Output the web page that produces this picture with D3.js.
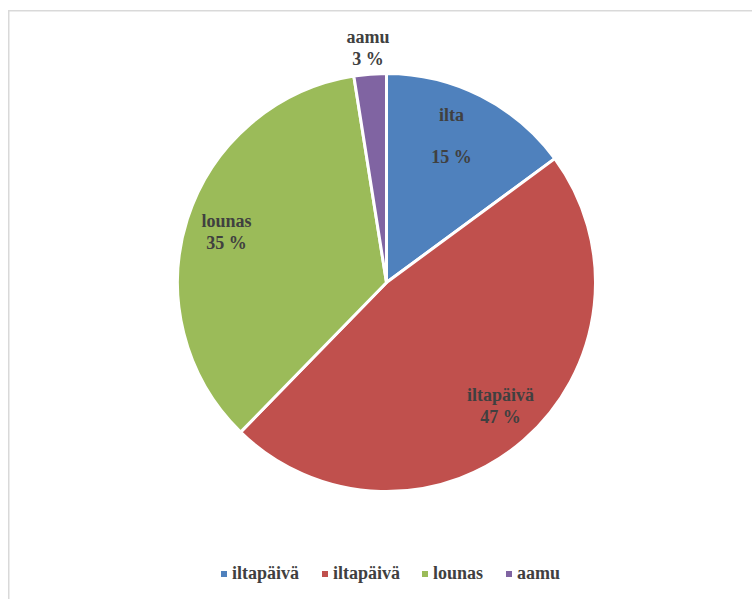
<!DOCTYPE html>
<html>
<head>
<meta charset="utf-8">
<script src="https://cdn.jsdelivr.net/npm/d3@7/dist/d3.min.js"></script>
<style>
  html, body { margin: 0; padding: 0; background: #fff; }
  svg { display: block; }
  text { font-family: "Liberation Serif", "Times New Roman", Times, "DejaVu Serif", serif; font-weight: bold; }
</style>
</head>
<body>
<svg id="chart" width="752" height="599"></svg>
<script>
// Share of meals by time of day (percent)
const sliceNames = ["ilta", "iltapäivä", "lounas", "aamu"];
const sliceValues = [14.9, 47.4, 35.2, 2.5];
const sliceColors = ["#4F81BD", "#C0504D", "#9BBB59", "#8064A2"];
const legendNames = ["iltapäivä", "iltapäivä", "lounas", "aamu"];

const W = 752, H = 599;
const cx = 386.5, cy = 282.5, R = 209;
const textColor = "#404040";

const svg = d3.select("#chart");

// chart area frame
svg.append("rect")
  .attr("x", 8.75).attr("y", 10.75)
  .attr("width", W).attr("height", H)
  .attr("fill", "none")
  .attr("stroke", "#d9d9d9")
  .attr("stroke-width", 1.5);

const data = sliceNames.map((n, i) => ({ name: n, value: sliceValues[i], color: sliceColors[i] }));

const pie = d3.pie().value(d => d.value).sort(null);
const arcs = pie(data);
const arc = d3.arc().innerRadius(0).outerRadius(R);

const g = svg.append("g").attr("transform", `translate(${cx},${cy})`);

g.selectAll("path.slice")
  .data(arcs)
  .join("path")
  .attr("class", "slice")
  .attr("d", arc)
  .attr("fill", d => d.data.color)
  .attr("stroke", "#fff")
  .attr("stroke-width", 3)
  .attr("stroke-linejoin", "miter");

// data labels: name over rounded percentage
const labelRadius = [160, 168, 168, 235];
const labelTurn = [-0.05, -0.03, 0, 0];   // small angular nudge (radians)
const lineGap = [42, 22, 22, 22];
arcs.forEach((a, i) => {
  const mid = (a.startAngle + a.endAngle) / 2 + labelTurn[i];
  const r = labelRadius[i];
  const x = Math.sin(mid) * r;
  const y = -Math.cos(mid) * r;
  const t = g.append("text")
    .attr("x", x)
    .attr("y", y)
    .attr("text-anchor", "middle")
    .attr("font-size", 18)
    .attr("fill", textColor);
  t.append("tspan").attr("x", x).attr("dy", -lineGap[i] / 2 + 6).text(a.data.name);
  t.append("tspan").attr("x", x).attr("dy", lineGap[i]).text(Math.round(a.data.value) + " %");
});

// legend
const legendX = [221, 322, 422, 506];
const legend = svg.append("g");
legendNames.forEach((n, i) => {
  legend.append("rect")
    .attr("x", legendX[i]).attr("y", 571)
    .attr("width", 6).attr("height", 6)
    .attr("fill", sliceColors[i]);
  legend.append("text")
    .attr("x", legendX[i] + 11).attr("y", 579)
    .attr("font-size", 18)
    .attr("fill", textColor)
    .text(n);
});
</script>
</body>
</html>
